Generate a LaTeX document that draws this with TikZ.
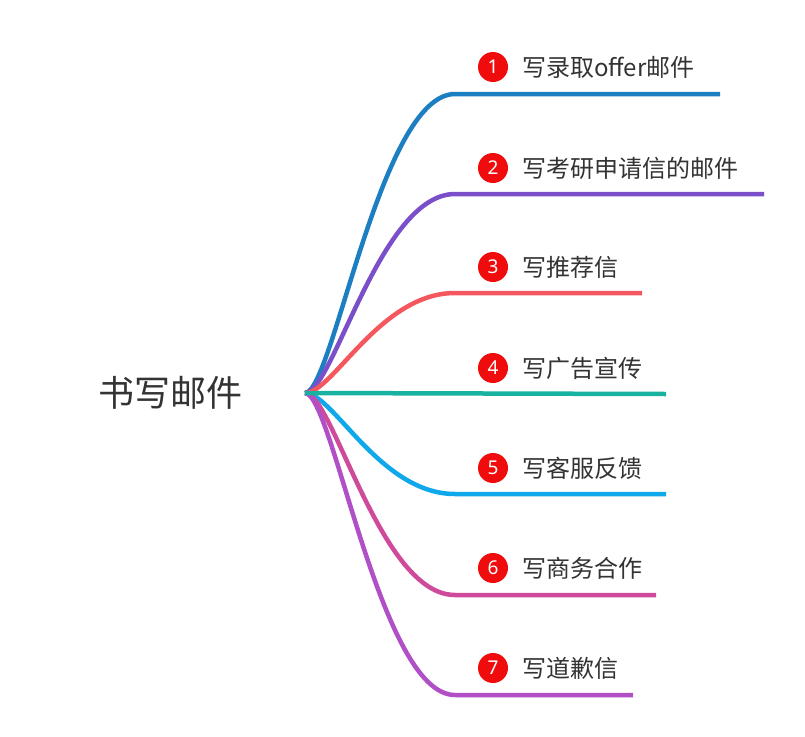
\documentclass[tikz,border=0pt]{standalone}
\usepackage{fontspec}
\newfontfamily\cjk{Noto Sans CJK SC}
\newfontfamily\numfont{Noto Sans}
\begin{document}
\begin{tikzpicture}[x=1pt,y=-1pt,
  branch/.style={line width=4.5pt,line cap=butt},
  numdot/.style={circle,fill=numred,text=white,minimum size=30pt,inner sep=0pt,font=\numfont\fontsize{19pt}{19pt}\selectfont},
  lbl/.style={anchor=base west,inner sep=0pt,text=txt,font=\cjk\fontsize{24pt}{24pt}\selectfont},
  rootlbl/.style={anchor=base west,inner sep=0pt,text=txt,font=\cjk\fontsize{36pt}{36pt}\selectfont}]
\definecolor{numred}{HTML}{F00C0C}
\definecolor{txt}{HTML}{333333}
\definecolor{c1}{HTML}{1B7FC1}
\definecolor{c2}{HTML}{7A4FC9}
\definecolor{c3}{HTML}{F4585E}
\definecolor{c4}{HTML}{18B2A0}
\definecolor{c5}{HTML}{0FA8EA}
\definecolor{c6}{HTML}{D04A9C}
\definecolor{c7}{HTML}{B04FC6}
\useasboundingbox[fill=white] (0,0) rectangle (805,736);
\node[rootlbl] (root) at (98,406.5) {书写邮件};
\coordinate (r) at (305,393);
% knee and end coordinates
\coordinate (k1) at (455,94);  \coordinate (e1) at (720,94);
\coordinate (k2) at (455,194); \coordinate (e2) at (764,194);
\coordinate (k3) at (455,293); \coordinate (e3) at (642,293);
\coordinate (e4) at (666,394);
\coordinate (k5) at (455,494); \coordinate (e5) at (666,494);
\coordinate (k6) at (455,595); \coordinate (e6) at (656,595);
\coordinate (k7) at (455,695); \coordinate (e7) at (633,695);
\draw[branch,c1] (r) .. controls ([xshift=28pt]r) and ([xshift=-75pt]k1) .. (k1) -- (e1);
\draw[branch,c2] (r) .. controls ([xshift=28pt]r) and ([xshift=-75pt]k2) .. (k2) -- (e2);
\draw[branch,c3] (r) .. controls ([xshift=28pt]r) and ([xshift=-75pt]k3) .. (k3) -- (e3);
\draw[branch,c5] (r) .. controls ([xshift=28pt]r) and ([xshift=-75pt]k5) .. (k5) -- (e5);
\draw[branch,c6] (r) .. controls ([xshift=28pt]r) and ([xshift=-75pt]k6) .. (k6) -- (e6);
\draw[branch,c7] (r) .. controls ([xshift=28pt]r) and ([xshift=-75pt]k7) .. (k7) -- (e7);
\draw[branch,c4] (r) -- (e4);
% labels
\node[numdot] (n1) at (493,67) {1};  \node[lbl] (l1) at (522,76) {写录取offer邮件};
\node[numdot] (n2) at (493,168) {2}; \node[lbl] (l2) at (522,177) {写考研申请信的邮件};
\node[numdot] (n3) at (493,267) {3}; \node[lbl] (l3) at (522,276) {写推荐信};
\node[numdot] (n4) at (493,368) {4}; \node[lbl] (l4) at (522,377) {写广告宣传};
\node[numdot] (n5) at (493,468) {5}; \node[lbl] (l5) at (522,477) {写客服反馈};
\node[numdot] (n6) at (493,568) {6}; \node[lbl] (l6) at (522,577) {写商务合作};
\node[numdot] (n7) at (493,668) {7}; \node[lbl] (l7) at (522,677) {写道歉信};
\end{tikzpicture}
\end{document}
